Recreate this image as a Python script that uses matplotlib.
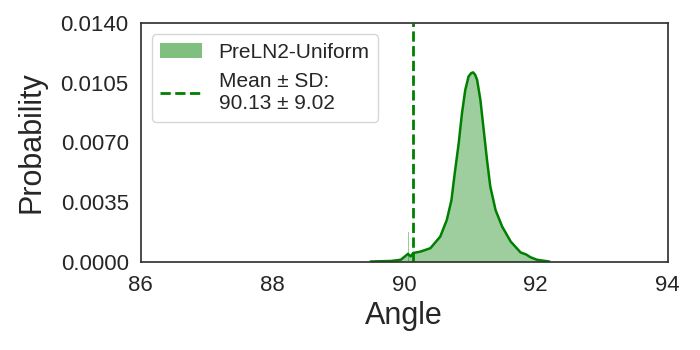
import matplotlib
matplotlib.use("Agg")
import matplotlib.pyplot as plt
from matplotlib.patches import Patch
from matplotlib.lines import Line2D

# Density curve (angle, probability per bin)
angles = [89.5, 89.8, 89.95, 90.03, 90.06, 90.1, 90.14, 90.25, 90.4, 90.55, 90.65,
          90.72, 90.77, 90.83, 90.88, 90.93, 90.98, 91.02, 91.05, 91.08, 91.11, 91.16, 91.21,
          91.26, 91.31, 91.39, 91.49, 91.62, 91.77, 91.85, 91.92, 92.02, 92.2]
probs = [0.0, 0.00003, 0.0001, 0.00035, 0.00045, 0.0003, 0.0005, 0.00058, 0.00078,
         0.00146, 0.00244, 0.0036, 0.00517, 0.00693, 0.0087, 0.01007, 0.01086,
         0.01106, 0.0111, 0.01096, 0.01066, 0.00948, 0.00772, 0.00596, 0.0044, 0.00302, 0.00205,
         0.00117, 0.00053, 0.00042, 0.00025, 0.0001, 0.0]

# single tall histogram bin
spike_x = [90.07]
spike_y = [0.00175]

mean_val = 90.13
sd_val = 9.02
series_name = "PreLN2-Uniform"

xticks = [86, 88, 90, 92, 94]
yticks = [0.0, 0.0035, 0.0070, 0.0105, 0.0140]

plt.rcParams['font.family'] = ['Liberation Sans', 'DejaVu Sans']

fig = plt.figure(figsize=(7, 3.5), dpi=100)
ax = fig.add_axes([140.5 / 700, 1 - 261.5 / 350, 527 / 700, 238.5 / 350])

ax.fill_between(angles, probs, 0, color='green', alpha=0.38, linewidth=0)
ax.bar(spike_x, spike_y, width=0.006, color='green', alpha=0.4, linewidth=0)
ax.plot(angles, probs, color='green', linewidth=1.8)
ax.axvline(mean_val, color='green', linestyle='--', linewidth=2)

ax.set_xlim(86, 94)
ax.set_ylim(0, 0.014)
ax.set_xticks(xticks)
ax.set_xticklabels([str(t) for t in xticks])
ax.set_yticks(yticks)
ax.set_yticklabels([f"{t:.4f}" for t in yticks])
ax.tick_params(axis='both', labelsize=16, length=0, colors='#262626')
ax.tick_params(axis='x', pad=10)
ax.tick_params(axis='y', pad=8.5)
for s in ax.spines.values():
    s.set_color('#333333')
    s.set_linewidth(1.25)

ax.set_xlabel("Angle", fontsize=22, color='#262626', labelpad=3)
ax.set_ylabel("Probability", fontsize=22, color='#262626', labelpad=10)

handles = [Patch(facecolor='green', alpha=0.5, edgecolor='none'),
           Line2D([0], [0], color='green', linestyle='--', linewidth=2)]
labels = [series_name, f"Mean ± SD:\n{mean_val:.2f} ± {sd_val:.2f}"]
leg = ax.legend(handles, labels, loc='upper left', fontsize=15, frameon=True,
                borderaxespad=0.55, handlelength=2.0)
leg.get_frame().set_edgecolor('#cccccc')
for t in leg.get_texts():
    t.set_color('#262626')

fig.savefig("out.png", dpi=100)
